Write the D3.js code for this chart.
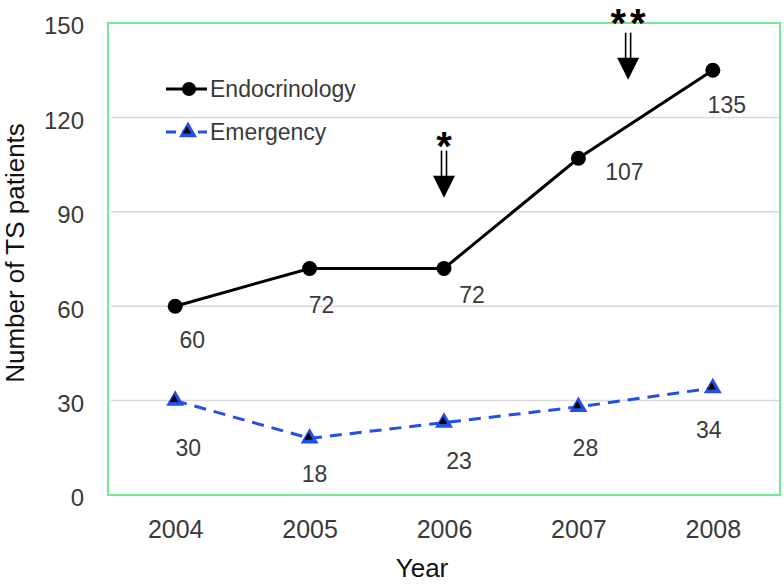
<!DOCTYPE html>
<html>
<head>
<meta charset="utf-8">
<script src="https://cdn.jsdelivr.net/npm/d3@7"></script>
<style>
  html, body { margin: 0; padding: 0; background: #fff; }
  svg { display: block; }
  text { font-family: "Liberation Sans", Arial, Helvetica, sans-serif; }
</style>
</head>
<body>
<svg id="chart" width="784" height="585"></svg>
<script>
// ---- data ----
const years = [2004, 2005, 2006, 2007, 2008];
const endocrinology = [60, 72, 72, 107, 135];
const emergency = [30, 18, 23, 28, 34];
const yTicks = [0, 30, 60, 90, 120, 150];
const seriesNames = ["Endocrinology", "Emergency"];
const annotationMarks = ["*", "**"];
const annotationYears = [2006, 2007.37];
const annotationValues = [94.5, 132];

// ---- layout (label nudges, px) ----
const endoLabelOffsets = [[17, 34], [12, 37], [28, 27], [46, 14], [14, 35]];
const emerLabelOffsets = [[13, 47], [5, 36], [15, 38], [7, 41], [-4, 42]];

const svg = d3.select("#chart");
const plot = { left: 108, right: 780, top: 23, bottom: 495 };

const x = d3.scaleLinear().domain([2003.5, 2008.5]).range([plot.left, plot.right]);
const y = d3.scaleLinear().domain([0, 150]).range([plot.bottom, plot.top]);

const textColor = "#3a3a3a";
const blue = "#2350e6";

// gridlines
svg.append("g").selectAll("line")
  .data(yTicks.filter(d => d > 0 && d < 150))
  .join("line")
  .attr("x1", plot.left + 3).attr("x2", plot.right)
  .attr("y1", d => y(d)).attr("y2", d => y(d))
  .attr("stroke", "#d9d9d9").attr("stroke-width", 1.5);

// plot border
svg.append("rect")
  .attr("x", plot.left).attr("y", plot.top)
  .attr("width", plot.right - plot.left).attr("height", plot.bottom - plot.top)
  .attr("fill", "none").attr("stroke", "#74e893").attr("stroke-width", 2);

// y axis
const yAxis = d3.axisLeft(y).tickValues(yTicks).tickSize(0).tickPadding(0);
const yg = svg.append("g").attr("transform", `translate(${plot.left - 24},0)`).call(yAxis);
yg.select(".domain").remove();
yg.selectAll("text")
  .attr("font-size", 24).attr("fill", textColor)
  .attr("font-family", "Liberation Sans, Arial, sans-serif")
  .attr("dy", "0.45em");

// x axis
const xAxis = d3.axisBottom(x).tickValues(years).tickFormat(d3.format("d")).tickSize(0).tickPadding(0);
const xg = svg.append("g").attr("transform", `translate(0,${plot.bottom + 43})`).call(xAxis);
xg.select(".domain").remove();
xg.selectAll("text")
  .attr("font-size", 25).attr("fill", textColor)
  .attr("font-family", "Liberation Sans, Arial, sans-serif")
  .attr("dy", 0);

// axis titles
svg.append("text")
  .attr("x", 422).attr("y", 577)
  .attr("text-anchor", "middle")
  .attr("font-size", 26).attr("fill", "#111")
  .text("Year");

svg.append("text")
  .attr("transform", `translate(24,${253}) rotate(-90)`)
  .attr("text-anchor", "middle")
  .attr("font-size", 26).attr("fill", "#111")
  .text("Number of TS patients");

// lines
const line = d3.line().x((d, i) => x(years[i])).y(d => y(d));

svg.append("path")
  .datum(emergency)
  .attr("d", line)
  .attr("fill", "none").attr("stroke", blue)
  .attr("stroke-width", 3).attr("stroke-dasharray", "12,8");

svg.append("path")
  .datum(endocrinology)
  .attr("d", line)
  .attr("fill", "none").attr("stroke", "#000")
  .attr("stroke-width", 3);

// markers
const tri = d3.symbol().type(d3.symbolTriangle);
function triangleMarker(g, cx, cy) {
  g.append("path").attr("d", tri.size(140)())
    .attr("transform", `translate(${cx},${cy})`).attr("fill", blue);
  g.append("path").attr("d", tri.size(30)())
    .attr("transform", `translate(${cx - 1},${cy - 1})`).attr("fill", "#000");
}

svg.append("g").selectAll("circle")
  .data(endocrinology)
  .join("circle")
  .attr("cx", (d, i) => x(years[i])).attr("cy", d => y(d))
  .attr("r", 7.5).attr("fill", "#000");

const tg = svg.append("g");
emergency.forEach((d, i) => triangleMarker(tg, x(years[i]), y(d)));

// data labels
svg.append("g").selectAll("text")
  .data(endocrinology)
  .join("text")
  .attr("x", (d, i) => x(years[i]) + endoLabelOffsets[i][0])
  .attr("y", (d, i) => y(d) + endoLabelOffsets[i][1])
  .attr("text-anchor", "middle").attr("dy", "0.35em")
  .attr("font-size", 23).attr("fill", textColor)
  .text(d => d);

svg.append("g").selectAll("text")
  .data(emergency)
  .join("text")
  .attr("x", (d, i) => x(years[i]) + emerLabelOffsets[i][0])
  .attr("y", (d, i) => y(d) + emerLabelOffsets[i][1])
  .attr("text-anchor", "middle").attr("dy", "0.35em")
  .attr("font-size", 23).attr("fill", textColor)
  .text(d => d);

// legend
const legend = svg.append("g");
const lgX1 = 166, lgX2 = 207, lgY = [89, 132];
legend.append("line").attr("x1", lgX1).attr("x2", lgX2).attr("y1", lgY[0]).attr("y2", lgY[0])
  .attr("stroke", "#000").attr("stroke-width", 3);
legend.append("circle").attr("cx", 189).attr("cy", lgY[0]).attr("r", 7).attr("fill", "#000");
legend.append("line").attr("x1", lgX1).attr("x2", lgX2).attr("y1", lgY[1]).attr("y2", lgY[1])
  .attr("stroke", blue).attr("stroke-width", 3).attr("stroke-dasharray", "10,6");
triangleMarker(legend, 188, lgY[1]);
legend.selectAll("text.lg")
  .data(seriesNames)
  .join("text")
  .attr("class", "lg")
  .attr("x", 210).attr("y", (d, i) => lgY[i])
  .attr("dy", "0.36em")
  .attr("font-size", 23).attr("fill", textColor)
  .text(d => d);

// annotations: star + double-shaft arrow
const ann = svg.append("g");
annotationMarks.forEach((m, i) => {
  const ax = x(annotationYears[i]);
  const tipY = y(annotationValues[i]);
  const headH = 22, shaftH = 25, headW = 11;
  const headTop = tipY - headH;
  const shaftTop = headTop - shaftH;
  [-2.5, 2.5].forEach(o => {
    ann.append("line")
      .attr("x1", ax + o).attr("x2", ax + o)
      .attr("y1", shaftTop).attr("y2", headTop + 1)
      .attr("stroke", "#000").attr("stroke-width", 1.6);
  });
  ann.append("path")
    .attr("d", `M${ax - headW},${headTop} L${ax + headW},${headTop} L${ax},${tipY} Z`)
    .attr("fill", "#000");
  ann.append("text")
    .attr("x", ax + 2).attr("y", shaftTop + (i === 0 ? 9 : 4))
    .attr("text-anchor", "middle")
    .attr("font-size", 40).attr("font-weight", "bold").attr("fill", "#000")
    .attr("letter-spacing", 4)
    .text(m);
});
</script>
</body>
</html>
